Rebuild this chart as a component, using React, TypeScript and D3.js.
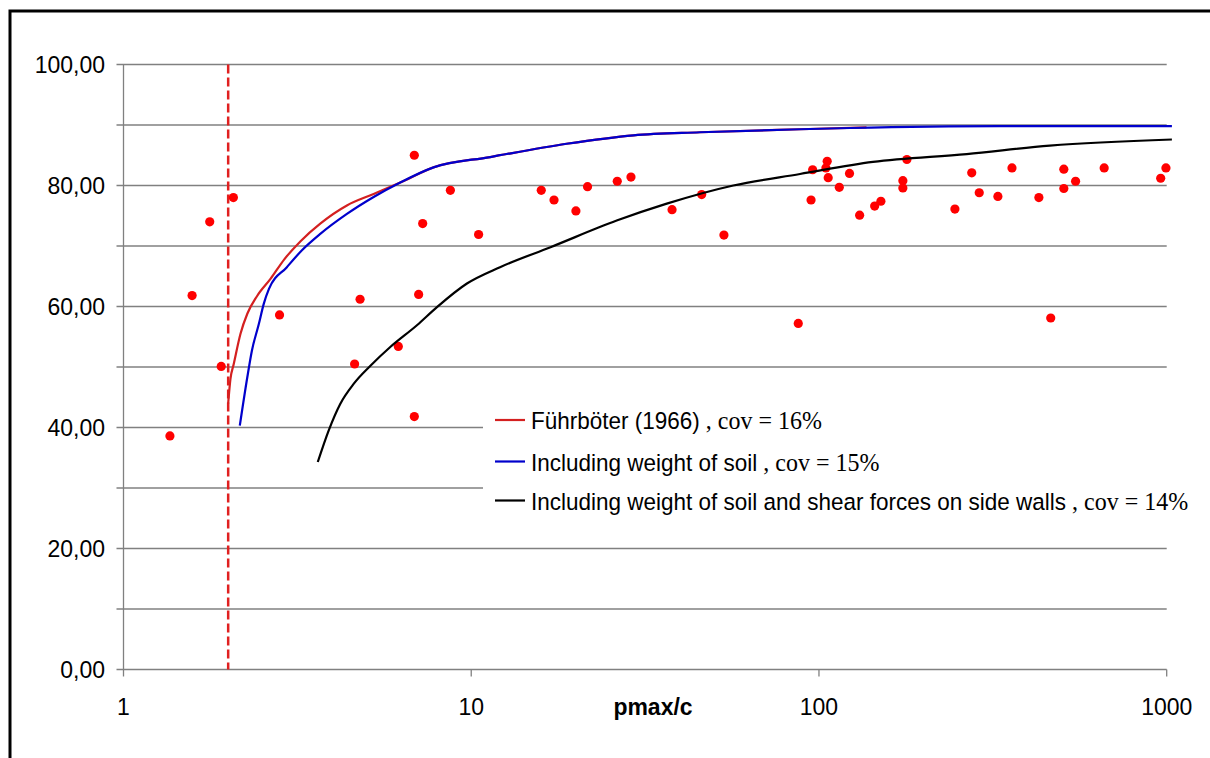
import React from "react";
import * as d3 from "d3";

// Measured ratio pmax/c and angle values (°)
const obsX = [1.36, 1.575, 1.77, 1.91, 2.07, 2.81, 4.62, 4.79, 6.17, 6.86, 6.86, 7.06, 7.25, 8.71, 10.5,
  15.9, 17.3, 20.0, 21.6, 26.3, 28.8, 37.8, 46.0, 53.3, 87.2, 94.9, 95.9, 104.7, 105.6, 106.3, 114.4,
  122.4, 130.9, 144.6, 150.7, 174.3, 174.3, 179, 246, 275, 289, 327, 359, 429, 464, 506, 506, 547,
  661, 961, 995];
const obsY = [38.6, 61.8, 74.0, 50.1, 78.0, 58.6, 50.5, 61.2, 53.4, 41.8, 85.0, 62.0, 73.7, 79.2, 71.9,
  79.2, 77.6, 75.8, 79.8, 80.7, 81.4, 76.0, 78.5, 71.8, 57.2, 77.6, 82.6, 82.9, 84.0, 81.3, 79.7,
  82.0, 75.1, 76.6, 77.4, 80.8, 79.6, 84.3, 76.1, 82.1, 78.8, 78.2, 82.9, 78.0, 58.1, 82.7, 79.5, 80.7,
  82.9, 81.2, 82.9];

// Führböter (1966)
const fuhrX = [2.0, 2.03, 2.075, 2.17, 2.27, 2.42, 2.65, 2.9, 3.23, 3.68, 4.39, 5.24, 6.25, 7.79, 11.34,
  18.8, 29.3, 45.5, 88.2, 137];
const fuhrY = [44.0, 48.0, 50.5, 55.5, 58.8, 61.7, 64.6, 67.8, 70.8, 73.7, 76.7, 78.6, 80.5, 83.0, 84.7,
  86.9, 88.3, 88.8, 89.3, 89.6];

// Including weight of soil
const soilX = [2.16, 2.27, 2.34, 2.45, 2.53, 2.62, 2.95, 3.26, 3.68, 4.39, 5.24, 6.25, 7.79, 11.34, 18.8,
  29.3, 45.5, 88.2, 122.8, 331, 1035];
const soilY = [40.3, 48.3, 52.7, 57.1, 60.4, 62.9, 66.5, 69.3, 72.0, 75.3, 78.1, 80.5, 83.0, 84.7, 86.9,
  88.3, 88.8, 89.3, 89.5, 89.8, 89.8];

// Including weight of soil and shear forces on side walls
const shearX = [3.62, 3.89, 4.2, 4.59, 5.13, 5.85, 6.98, 7.97, 9.72, 12.1, 16.9, 26.2, 36.5, 56.7, 88.2,
  143, 266, 461, 1035];
const shearY = [34.3, 39.5, 43.9, 47.2, 50.2, 53.3, 56.9, 59.9, 63.8, 66.5, 69.8, 74.2, 77.0, 80.0, 81.9,
  83.9, 85.2, 86.6, 87.6];

const xTicks = [1, 10, 100, 1000];
const yTicks = [0, 20, 40, 60, 80, 100];
const yGrid = [0, 10, 20, 30, 40, 50, 60, 70, 80, 90, 100];
const limitX = 2;

const legendNames = ["Führböter (1966)", "Including weight of soil", "Including weight of soil and shear forces on side walls"];
const legendCov = ["16%", "15%", "14%"];
const legendColors = ["#d42020", "#0000cc", "#000000"];

const W = 1210;
const H = 758;
const SANS = "'Liberation Sans', Arial, sans-serif";
const SERIF = "'Liberation Serif', 'Times New Roman', serif";
const STRETCH = 1.08; // labels are drawn slightly taller than wide

export default function App() {
  const x = d3.scaleLog().domain([1, 1000]).range([123.5, 1166.7]);
  const y = d3.scaleLinear().domain([0, 100]).range([669.5, 64.5]);

  const line = d3
    .line<[number, number]>()
    .x((d) => x(d[0]))
    .y((d) => y(d[1]))
    .curve(d3.curveMonotoneX);

  const series = [
    { xs: fuhrX, ys: fuhrY, color: legendColors[0] },
    { xs: soilX, ys: soilY, color: legendColors[1] },
    { xs: shearX, ys: shearY, color: legendColors[2] },
  ];

  const x0 = x(1);
  const x1 = x(1000);
  const gridColor = "#808080";
  const fmt = (v: number) => v.toFixed(2).replace(".", ",");
  const at = (px: number, py: number) => `translate(${px},${py}) scale(1,${STRETCH})`;

  const legendLeft = 483;
  const legendRows = [420, 461.5, 500.5];

  return (
    <div style={{ position: "absolute", left: 0, top: 0 }}>
      <svg width={W} height={H} style={{ display: "block", background: "#fff" }}>
        {/* outer frame */}
        <rect x={10} y={11} width={W + 20} height={H + 20} fill="#fff" stroke="#000" strokeWidth={3} />

        {/* horizontal gridlines with left tick marks */}
        {yGrid.map((v) => (
          <line key={"g" + v} x1={x0 - 7} x2={x1} y1={y(v)} y2={y(v)} stroke={gridColor} strokeWidth={1.3} />
        ))}
        {/* y axis line */}
        <line x1={x0} x2={x0} y1={y(100)} y2={y(0)} stroke={gridColor} strokeWidth={1.3} />
        {/* x axis ticks */}
        {xTicks.map((t) => (
          <line key={"xt" + t} x1={x(t)} x2={x(t)} y1={y(0)} y2={y(0) + 7} stroke={gridColor} strokeWidth={1.3} />
        ))}

        {/* y tick labels */}
        {yTicks.map((v) => (
          <text key={"yl" + v} transform={at(105, y(v) + 8.5)} textAnchor="end" fontFamily={SANS} fontSize={23} fill="#000">
            {fmt(v)}
          </text>
        ))}
        {/* x tick labels */}
        {xTicks.map((t) => (
          <text key={"xl" + t} transform={at(x(t), 715)} textAnchor="middle" fontFamily={SANS} fontSize={23} fill="#000">
            {String(t)}
          </text>
        ))}
        <text transform={at(653, 715)} textAnchor="middle" fontFamily={SANS} fontSize={23} fontWeight="bold" fill="#000">
          pmax/c
        </text>

        {/* limit line */}
        <line x1={x(limitX)} x2={x(limitX)} y1={y(100)} y2={y(0)} stroke="#e02020" strokeWidth={2.5} strokeDasharray="9,4" />

        {/* legend background */}
        <rect x={legendLeft} y={398} width={W - legendLeft + 10} height={130} fill="#fff" />

        {/* observations */}
        {obsX.map((v, i) => (
          <circle key={"p" + i} cx={x(v)} cy={y(obsY[i])} r={4.6} fill="#ff0000" />
        ))}

        {/* fitted curves */}
        {series.map((s, i) => (
          <path
            key={"s" + i}
            d={line(s.xs.map((v, j) => [v, s.ys[j]] as [number, number])) || ""}
            fill="none"
            stroke={s.color}
            strokeWidth={2.2}
          />
        ))}

        {/* legend */}
        {legendNames.map((name, i) => (
          <g key={"lg" + i}>
            <line x1={495} x2={525} y1={legendRows[i]} y2={legendRows[i]} stroke={legendColors[i]} strokeWidth={2.2} />
            <text transform={at(531, legendRows[i] + 9)} fontFamily={SANS} fontSize={22.5} fill="#000" style={{ whiteSpace: "pre" }}>
              {name}
              <tspan fontFamily={SERIF} fontSize={24}>{" , cov = " + legendCov[i]}</tspan>
            </text>
          </g>
        ))}
      </svg>
    </div>
  );
}
